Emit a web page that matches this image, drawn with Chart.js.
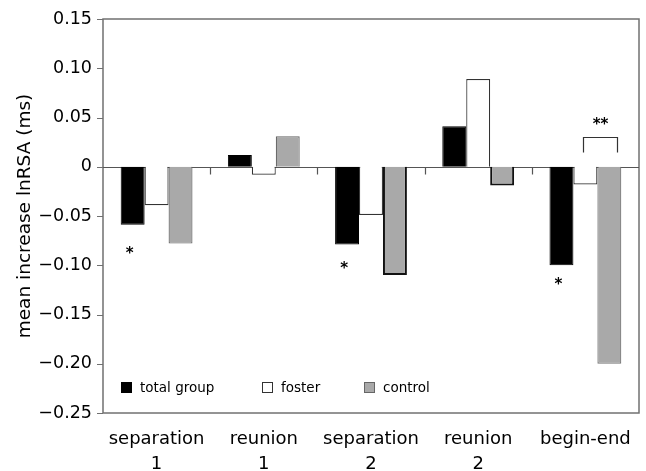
<!DOCTYPE html>
<html>
<head>
<meta charset="utf-8">
<script src="https://cdn.jsdelivr.net/npm/chart.js@4/dist/chart.umd.min.js"></script>
<style>
  html, body { margin: 0; padding: 0; background: #fff; }
  #wrap { width: 646px; height: 471px; position: relative; }
</style>
</head>
<body>
<div id="wrap"><canvas id="c" width="646" height="471"></canvas></div>
<script>
const categories = [["separation", "1"], ["reunion", "1"], ["separation", "2"], ["reunion", "2"], ["begin-end", ""]];
const seriesNames = ["total group", "foster", "control"];
const totalGroup = [-0.059, 0.012, -0.079, 0.041, -0.100];
const foster = [-0.039, -0.008, -0.049, 0.089, -0.018];
const control = [-0.078, 0.031, -0.110, -0.019, -0.200];
const starCategories = [0, 2, 4];            // '*' under the total group bar
const starValues = [-0.085, -0.100, -0.116]; // vertical position of each '*'
const doubleStarCategory = 4;                // '**' bracket between foster and control
const bracketValues = [0.030, 0.015];        // bracket top, bracket leg end
const yTickMin = -0.25, yTickMax = 0.15, yTickStep = 0.05;

const FONT = "'DejaVu Sans', sans-serif";

function fmtTick(v) {
  const r = Math.round(v * 100) / 100;
  if (Math.abs(r) < 1e-9) return "0";
  return (r < 0 ? "\u22120" : "0") + "." + String(Math.round(Math.abs(r) * 100)).padStart(2, "0");
}

const overlayPlugin = {
  id: "overlay",
  beforeDatasetsDraw(chart) {
    const { ctx, chartArea: a, scales: { x, y } } = chart;
    ctx.save();
    ctx.strokeStyle = "#707070";
    ctx.lineWidth = 1.5;
    ctx.strokeRect(a.left, a.top, a.right - a.left, a.bottom - a.top);
    const y0 = Math.round(y.getPixelForValue(0)) + 0.5;
    ctx.strokeStyle = "#555";
    ctx.lineWidth = 1.2;
    ctx.beginPath();
    ctx.moveTo(a.left, y0);
    ctx.lineTo(a.right, y0);
    for (let i = 1; i < categories.length; i++) {
      const xb = Math.round((x.getPixelForValue(i - 1) + x.getPixelForValue(i)) / 2) + 0.5;
      ctx.moveTo(xb, y0);
      ctx.lineTo(xb, y0 + 7);
    }
    ctx.stroke();
    ctx.restore();
  },
  afterDatasetsDraw(chart) {
    const { ctx, scales: { y } } = chart;
    ctx.save();
    ctx.fillStyle = "#000";
    ctx.font = "bold 15px " + FONT;
    ctx.textAlign = "center";
    ctx.textBaseline = "middle";
    const m0 = chart.getDatasetMeta(0);
    starCategories.forEach((i, k) => {
      const bar = m0.data[i];
      ctx.fillText("*", bar.x - 3, y.getPixelForValue(starValues[k]) + 4);
    });
    const m1 = chart.getDatasetMeta(1), m2 = chart.getDatasetMeta(2);
    const bx1 = Math.round(m1.data[doubleStarCategory].x - 2) + 0.5;
    const bx2 = Math.round(m2.data[doubleStarCategory].x + 8) + 0.5;
    const top = Math.round(y.getPixelForValue(bracketValues[0])) + 0.5;
    const leg = Math.round(y.getPixelForValue(bracketValues[1])) + 0.5;
    ctx.strokeStyle = "#333";
    ctx.lineWidth = 1.2;
    ctx.beginPath();
    ctx.moveTo(bx1, leg); ctx.lineTo(bx1, top); ctx.lineTo(bx2, top); ctx.lineTo(bx2, leg);
    ctx.stroke();
    ctx.fillText("**", (bx1 + bx2) / 2, top - 12);
    // legend inside the plot
    const ly = 388;
    const items = [
      { x: 121, fill: "#000", stroke: "#000" },
      { x: 262, fill: "#fff", stroke: "#333" },
      { x: 364, fill: "#a9a9a9", stroke: "#666" }
    ];
    ctx.font = "13.5px " + FONT;
    ctx.textAlign = "left";
    items.forEach((it, i) => {
      ctx.fillStyle = it.fill;
      ctx.fillRect(it.x, ly - 6, 11, 11);
      ctx.strokeStyle = it.stroke;
      ctx.lineWidth = 1;
      ctx.strokeRect(it.x + 0.5, ly - 5.5, 10, 10);
      ctx.fillStyle = "#000";
      ctx.fillText(seriesNames[i], it.x + 19, ly);
    });
    ctx.restore();
  },
  afterDraw(chart) {
    const { ctx, chartArea: a, scales: { y } } = chart;
    ctx.save();
    ctx.strokeStyle = "#707070";
    ctx.lineWidth = 1.2;
    ctx.beginPath();
    for (let v = yTickMin; v <= yTickMax + 1e-9; v += yTickStep) {
      const py = Math.round(y.getPixelForValue(v)) + 0.5;
      ctx.moveTo(a.left - 6, py);
      ctx.lineTo(a.left, py);
    }
    ctx.stroke();
    ctx.restore();
  }
};

new Chart(document.getElementById("c"), {
  type: "bar",
  data: {
    labels: categories,
    datasets: [
      { label: seriesNames[0], data: totalGroup, backgroundColor: "#000", borderColor: "#000", borderWidth: 1 },
      { label: seriesNames[1], data: foster, backgroundColor: "#fff", borderColor: "#333", borderWidth: 1.2 },
      { label: seriesNames[2], data: control, backgroundColor: "#a9a9a9",
        borderColor: ["#666", "#666", "#111", "#111", "#777"], borderWidth: [1.2, 1.2, 2, 2, 1.2] }
    ]
  },
  options: {
    responsive: false,
    animation: false,
    devicePixelRatio: 1,
    layout: { padding: { top: 19, right: 7, bottom: 0, left: 0 } },
    plugins: { legend: { display: false }, tooltip: { enabled: false } },
    datasets: { bar: { categoryPercentage: 0.67, barPercentage: 1.0 } },
    scales: {
      x: {
        grid: { display: false, drawTicks: false },
        border: { display: false },
        ticks: { color: "#000", font: { family: FONT, size: 18, lineHeight: 1.38 }, padding: 14, maxRotation: 0, autoSkip: false },
        afterFit(s) { s.height = 58; }
      },
      y: {
        min: yTickMin, max: yTickMax,
        grid: { display: false, drawTicks: true, tickLength: 6, tickColor: "#707070" },
        border: { display: false },
        ticks: {
          stepSize: yTickStep, color: "#000", padding: 5,
          font: { family: FONT, size: 17.5 },
          callback: (v) => fmtTick(v)
        },
        title: { display: true, text: "mean increase lnRSA (ms)", color: "#000",
                 font: { family: FONT, size: 18.5 }, padding: { top: 14, bottom: 0 } },
        afterFit(s) { s.width = 103; }
      }
    }
  },
  plugins: [overlayPlugin]
});
</script>
</body>
</html>
